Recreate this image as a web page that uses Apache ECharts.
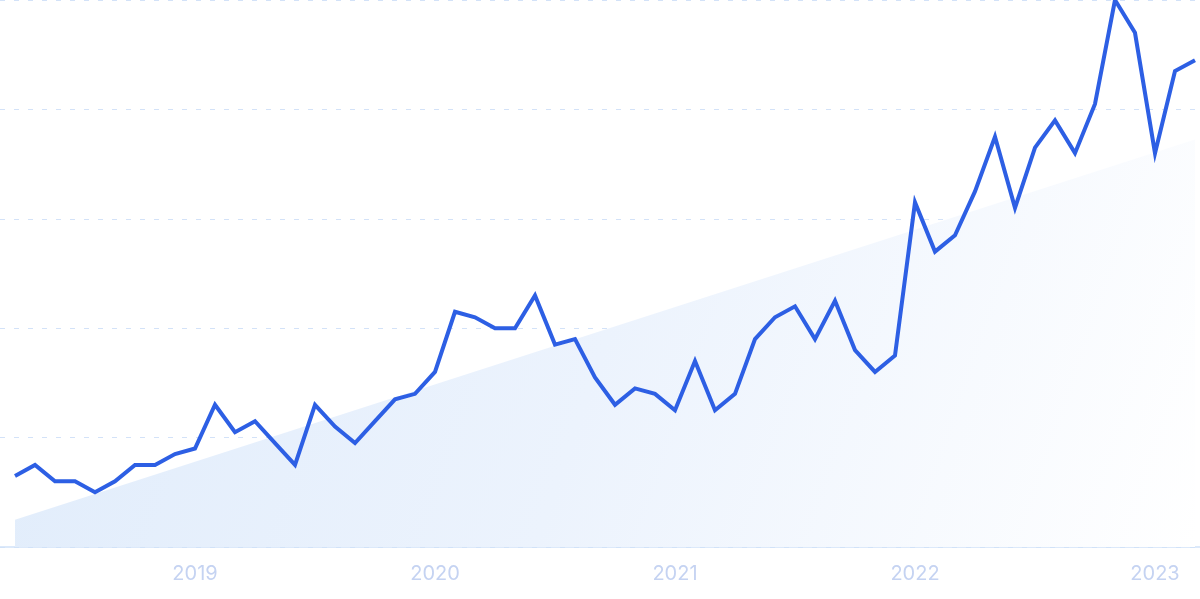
<!DOCTYPE html>
<html>
<head>
<meta charset="utf-8">
<script src="https://cdn.jsdelivr.net/npm/echarts@6/dist/echarts.min.js"></script>
<style>
html,body{margin:0;padding:0;background:#fff;}
#chart{width:1200px;height:599px;}
</style>
</head>
<body>
<div id="chart"></div>
<script>
// Months from 2018-04 to 2023-03
const months = [
  '2018-04','2018-05','2018-06','2018-07','2018-08','2018-09','2018-10','2018-11','2018-12',
  '2019-01','2019-02','2019-03','2019-04','2019-05','2019-06','2019-07','2019-08','2019-09','2019-10','2019-11','2019-12',
  '2020-01','2020-02','2020-03','2020-04','2020-05','2020-06','2020-07','2020-08','2020-09','2020-10','2020-11','2020-12',
  '2021-01','2021-02','2021-03','2021-04','2021-05','2021-06','2021-07','2021-08','2021-09','2021-10','2021-11','2021-12',
  '2022-01','2022-02','2022-03','2022-04','2022-05','2022-06','2022-07','2022-08','2022-09','2022-10','2022-11','2022-12',
  '2023-01','2023-02','2023-03'
];
const values = [
  13,15,12,12,10,12,15,15,17,
  18,26,21,23,19,15,26,22,19,23,27,28,
  32,43,42,40,40,46,37,38,31,26,29,28,
  25,34,25,28,38,42,44,38,45,36,32,35,
  63,54,57,65,75,62,73,78,72,81,100,94,
  72,87,89
];
// Trend line end points (start month, end month)
const trendValues = [5, 74.5];
const yearLabels = ['2019','2020','2021','2022','2023'];

const yearIdx = months.map((m, i) => m.endsWith('-01') ? i : -1).filter(i => i >= 0);
const lineData = values.map((v, i) => [i, v]);
const trendData = [[0, trendValues[0]], [months.length - 1, trendValues[1]]];

const chart = echarts.init(document.getElementById('chart'), null, {renderer: 'canvas'});
chart.setOption({
  animation: false,
  backgroundColor: '#ffffff',
  grid: {left: 0, right: 0, top: 0, bottom: 52, containLabel: false},
  xAxis: {
    type: 'value',
    min: -0.75,
    max: months.length - 0.75,
    axisLine: {show: true, lineStyle: {color: '#d0e2f9', width: 1.5}},
    axisTick: {show: false},
    splitLine: {show: false},
    axisLabel: {
      customValues: yearIdx,
      formatter: function (v) { return yearLabels[yearIdx.indexOf(Math.round(v))] || ''; },
      color: '#c5d3f2',
      fontFamily: 'Inter',
      fontSize: 20,
      margin: 17
    }
  },
  yAxis: {
    type: 'value',
    min: 0,
    max: 100,
    interval: 20,
    axisLine: {show: false},
    axisTick: {show: false},
    axisLabel: {show: false},
    splitLine: {show: true, lineStyle: {color: '#d3e2f8', type: [5, 9], width: 1}}
  },
  series: [
    {
      type: 'line',
      data: trendData,
      symbol: 'none',
      silent: true,
      lineStyle: {width: 0},
      areaStyle: {
        opacity: 1,
        color: new echarts.graphic.LinearGradient(0, 0, 1, 1, [
          {offset: 0, color: '#e0ecfb'},
          {offset: 0.5, color: '#ecf3fd'},
          {offset: 1, color: '#ffffff'}
        ])
      },
      z: 1
    },
    {
      type: 'line',
      data: lineData,
      symbol: 'none',
      clip: false,
      lineStyle: {color: '#2d5fe4', width: 4, join: 'miter'},
      z: 3
    }
  ]
});
</script>
</body>
</html>
